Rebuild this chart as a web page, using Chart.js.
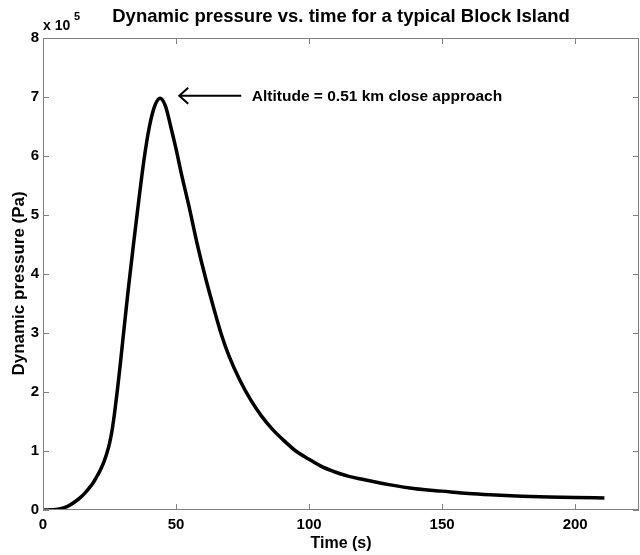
<!DOCTYPE html>
<html>
<head>
<meta charset="utf-8">
<script src="https://cdn.jsdelivr.net/npm/chart.js@4"></script>
<style>
  html, body { margin: 0; padding: 0; background: #fff; }
  #wrap { width: 640px; height: 555px; }
</style>
</head>
<body>
<div id="wrap"><canvas id="chart"></canvas></div>
<script>
// time (s)
const times = [0, 5, 8, 10, 12, 14, 16, 18, 19, 20, 21, 22, 23, 24, 25, 26, 27, 28, 29, 30, 32, 34, 36, 38, 40, 42, 44,
  46, 48, 50, 52, 55, 58, 61, 64, 67, 70, 74, 78, 82, 86, 90, 95, 100, 105, 110, 115, 120,
  130, 140, 150, 160, 170, 180, 190, 200, 211];
// dynamic pressure, in units of 10^5 Pa
const pressure = [0, 0.01, 0.04, 0.08, 0.14, 0.21, 0.3, 0.41, 0.47, 0.55, 0.63, 0.72, 0.83, 0.96, 1.13, 1.36, 1.68, 2.05, 2.45, 2.88, 3.72, 4.5, 5.25, 5.95, 6.5, 6.85, 6.98,
  6.85, 6.5, 6.12, 5.7, 5.12, 4.5, 3.95, 3.45, 2.98, 2.6, 2.2, 1.87, 1.6, 1.38, 1.2, 1.0, 0.86, 0.73, 0.64, 0.57, 0.52,
  0.43, 0.36, 0.32, 0.28, 0.255, 0.235, 0.22, 0.21, 0.205];
const xTicks = [0, 50, 100, 150, 200];
const yTicks = [0, 1, 2, 3, 4, 5, 6, 7, 8];

const FONT = 'Liberation Sans, Arial, sans-serif';
const axisGrey = '#808080';

const points = times.map((t, i) => ({ x: t, y: pressure[i] }));

// matlab style box with ticks pointing inwards + the arrow note
const boxPlugin = {
  id: 'boxPlugin',
  afterDraw(chart) {
    const { ctx, chartArea: a, scales: { x, y } } = chart;
    ctx.save();
    ctx.strokeStyle = axisGrey;
    ctx.lineWidth = 1;
    ctx.strokeRect(a.left + 0.5, a.top + 0.5, a.right - a.left - 1, a.bottom - a.top - 1);
    ctx.beginPath();
    xTicks.forEach(v => {
      const px = Math.round(x.getPixelForValue(v)) + 0.5;
      ctx.moveTo(px, a.bottom); ctx.lineTo(px, a.bottom - 6);
      ctx.moveTo(px, a.top); ctx.lineTo(px, a.top + 6);
    });
    yTicks.forEach(v => {
      const py = Math.round(y.getPixelForValue(v)) + 0.5;
      ctx.moveTo(a.left, py); ctx.lineTo(a.left + 6, py);
      ctx.moveTo(a.right, py); ctx.lineTo(a.right - 6, py);
    });
    ctx.stroke();

    // exponent label
    ctx.fillStyle = '#000';
    ctx.font = 'bold 14px ' + FONT;
    ctx.textBaseline = 'middle';
    ctx.textAlign = 'left';
    ctx.fillText('x 10', a.left, 26);
    ctx.font = 'bold 11px ' + FONT;
    ctx.fillText('5', a.left + 31, 17);

    // arrow
    const x0 = x.getPixelForValue(51.2), x1 = x.getPixelForValue(74.5);
    const ay = y.getPixelForValue(7.02);
    ctx.strokeStyle = '#000';
    ctx.lineWidth = 2;
    ctx.beginPath();
    ctx.moveTo(x1, ay); ctx.lineTo(x0, ay);
    ctx.moveTo(x0 + 9, ay - 8); ctx.lineTo(x0, ay); ctx.lineTo(x0 + 9, ay + 8);
    ctx.stroke();
    ctx.font = 'bold 15.5px ' + FONT;
    ctx.fillText('Altitude = 0.51 km close approach', x.getPixelForValue(78.5), ay + 1);
    ctx.restore();
  }
};

new Chart(document.getElementById('chart'), {
  type: 'line',
  data: {
    datasets: [{
      data: points,
      borderColor: '#000',
      borderWidth: 3.5,
      pointRadius: 0,
      cubicInterpolationMode: 'monotone',
      fill: false
    }]
  },
  options: {
    responsive: true,
    maintainAspectRatio: false,
    animation: false,
    layout: { padding: { left: 0, right: 1, top: 0, bottom: 0 } },
    plugins: {
      legend: { display: false },
      tooltip: { enabled: false },
      title: {
        display: true,
        fullSize: false,
        text: 'Dynamic pressure vs. time for a typical Block Island',
        color: '#000',
        font: { family: FONT, size: 18.5, weight: 'bold' },
        padding: { top: 6, bottom: 9.8 }
      }
    },
    scales: {
      x: {
        type: 'linear',
        min: 0,
        max: 224,
        afterFit(s) { s.height = 45; },
        afterBuildTicks(s) { s.ticks = xTicks.map(v => ({ value: v })); },
        ticks: { color: '#000', font: { family: FONT, size: 15, weight: 'bold' }, padding: 6, maxRotation: 0 },
        grid: { display: false, drawTicks: false },
        border: { display: false },
        title: {
          display: true,
          text: 'Time (s)',
          color: '#000',
          font: { family: FONT, size: 16, weight: 'bold' },
          padding: { top: 0, bottom: 2 }
        }
      },
      y: {
        min: 0,
        max: 8,
        afterFit(s) { s.width = 43; },
        afterBuildTicks(s) { s.ticks = yTicks.map(v => ({ value: v })); },
        ticks: { color: '#000', font: { family: FONT, size: 15, weight: 'bold' }, padding: 4 },
        grid: { display: false, drawTicks: false },
        border: { display: false },
        title: {
          display: true,
          text: 'Dynamic pressure (Pa)    ',
          color: '#000',
          font: { family: FONT, size: 17, weight: 'bold' },
          padding: { top: 9, bottom: 0 }
        }
      }
    }
  },
  plugins: [boxPlugin]
});
</script>
</body>
</html>
